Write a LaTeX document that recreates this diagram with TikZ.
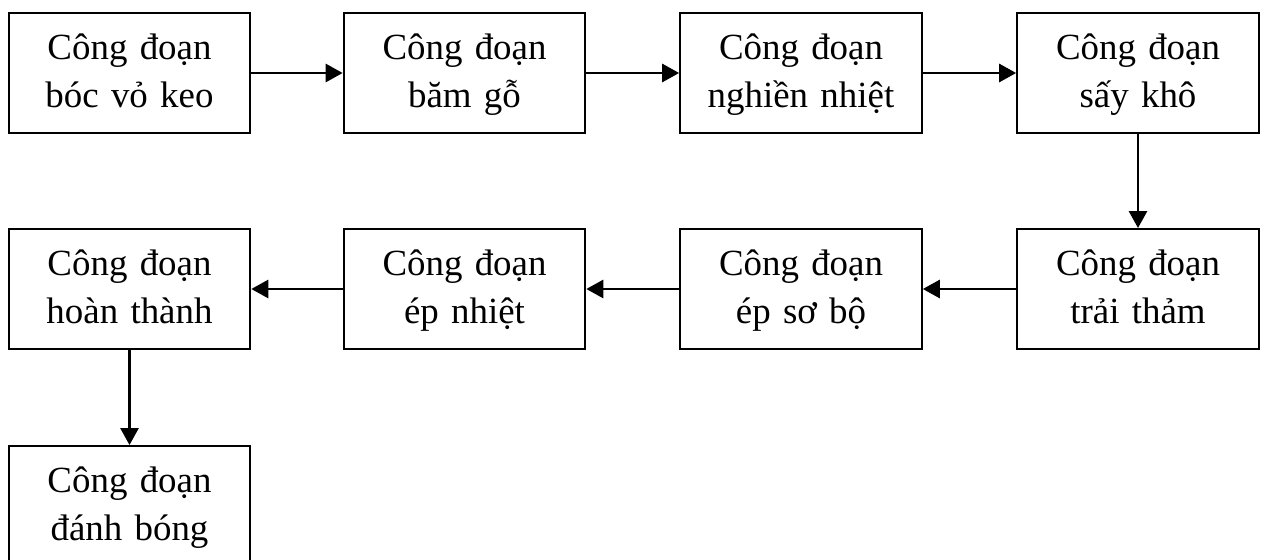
\documentclass[tikz,border=0pt]{standalone}
\usepackage{fontspec}
\setmainfont{Liberation Serif}
\usetikzlibrary{arrows.meta,positioning}

% two lines of a stage box, with fixed top and bottom struts
\newcommand{\stagetext}[2]{\rule{0pt}{0.62cm}#1\\#2\rule[-0.2cm]{0pt}{0.2cm}}

\begin{document}
\begin{tikzpicture}
  % Styles
  \tikzset{
    stage/.style={rectangle, draw=black, line width=1.1pt, minimum width=4.8cm,
      minimum height=2.4cm, text width=4.6cm, align=center, inner ysep=0pt,
      font=\fontsize{21}{27.3}\selectfont},
    arrow/.style={-{Triangle[length=0.34cm,width=0.36cm]}, line width=1.6pt, black}
  }
  \useasboundingbox (0,0) rectangle (25.28,-11.2);

  % Row 1
  \node[stage] (boc) at (2.59,-1.46) {\stagetext{Công đoạn}{bóc vỏ keo}};
  \node[stage] (bam) at (9.29,-1.46) {\stagetext{Công đoạn}{băm gỗ}};
  \node[stage] (nghien) at (16.02,-1.46) {\stagetext{Công đoạn}{nghiền nhiệt}};
  \node[stage] (say) at (22.76,-1.46) {\stagetext{Công đoạn}{sấy khô}};

  % Row 2
  \node[stage] (trai) at (22.76,-5.78) {\stagetext{Công đoạn}{trải thảm}};
  \node[stage] (epsb) at (16.02,-5.78) {\stagetext{Công đoạn}{ép sơ bộ}};
  \node[stage] (epnh) at (9.29,-5.78) {\stagetext{Công đoạn}{ép nhiệt}};
  \node[stage] (hoan) at (2.59,-5.78) {\stagetext{Công đoạn}{hoàn thành}};

  % Row 3
  \node[stage] (danh) at (2.59,-10.12) {\stagetext{Công đoạn}{đánh bóng}};

  % Arrows
  \draw[arrow] (boc) -- (bam);
  \draw[arrow] (bam) -- (nghien);
  \draw[arrow] (nghien) -- (say);
  \draw[arrow] (say) -- (trai);
  \draw[arrow] (trai) -- (epsb);
  \draw[arrow] (epsb) -- (epnh);
  \draw[arrow] (epnh) -- (hoan);
  \draw[arrow] (hoan) -- (danh);

\end{tikzpicture}
\end{document}
